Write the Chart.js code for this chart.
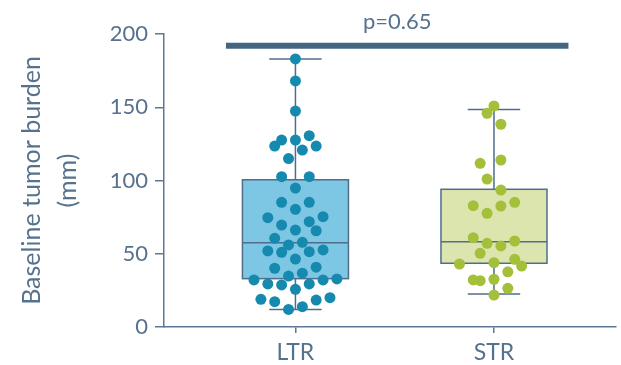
<!DOCTYPE html>
<html lang="en">
<head>
  <meta charset="UTF-8">
  <title>Baseline tumor burden: LTR vs STR</title>
  <script src="https://cdn.jsdelivr.net/npm/chart.js@4.4.1/dist/chart.umd.min.js"></script>
  <style>
    html, body { margin: 0; padding: 0; background: #fff; }
  </style>
</head>
<body>
  <canvas id="myChart" width="621" height="365"></canvas>
  <script>
    // Groups on the x axis (placed at x = 1, 2)
    const groups = ['LTR', 'STR'];

    // Individual patients, mm
    const ltrValues = [183, 168, 147.4, 127.6, 127.6, 123.5, 130.6, 120.8, 123.5, 115,
      102.6, 102.6, 94.8, 85.1, 85.1, 80.3, 74.6, 75.3, 69.6, 71.9,
      66.2, 65.7, 60.5, 56, 57.8, 51.9, 51, 51.4, 52.6, 46.4,
      40.1, 40.8, 34.8, 36.7, 32.1, 29.4, 28.7, 25.7, 29.4, 32.1,
      32.8, 18.9, 17.3, 18.4, 20, 12, 13.9];
    // swarm offsets, in half-dot steps
    const ltrJitter = [0, 0, 0, 0, -2, -3, 2, 1, 3, -1,
      -2, 2, 0, -2, 2, 0, -4, 4, -2, 2,
      0, 3, -3, -1, 1, -4, -2, 2, 4, 0,
      -3, 3, -1, 1, -6, -4, -2, 0, 2, 4,
      6, -5, -3, 3, 5, -1, 1];

    const strValues = [150.9, 145.9, 138.4, 111.7, 114, 101, 93.5, 82.8, 77.6, 82.6,
      85.1, 61, 57.1, 55.3, 58.7, 50.3, 43, 43.9, 46.2, 41.6,
      37.7, 32.1, 31.6, 32.6, 26.4, 21.8];
    const strJitter = [0, -1, 1, -2, 1, -1, 1, -3, -1, 1,
      3, -3, -1, 1, 3, -2, -5, 0, 3, 4,
      2, -3, -2, 0, 2, 0];

    // box summaries: [whisker low, Q1, median, Q3, whisker high]
    const ltrBox = [12, 33, 57.5, 100.5, 183];
    const strBox = [22.5, 43.5, 58.2, 94, 148.5];

    const yTicks = [0, 50, 100, 150, 200];

    // comparison bracket
    const pValueLabel = 'p=0.65';
    const sigBarY = 192;
    const sigBarSpan = [0.65, 2.375];

    const JITTER_STEP = 0.0348;
    const BOX_HALF = 0.267;
    const CAP_HALF = 0.132;
    const FONT = "Lato, 'Open Sans', sans-serif";
    const TEXT = '#56728f';
    const AXIS = '#5b7896';
    const BOX_LINE = '#4f6d8d';

    const boxStyles = [
      { stats: ltrBox, fill: '#7dc7e4' },
      { stats: strBox, fill: '#dde5ae' }
    ];

    // draws boxes, medians and whiskers under the dots
    const boxPlugin = {
      id: 'boxes',
      beforeDatasetsDraw(chart) {
        const { ctx } = chart;
        const x = chart.scales.x, y = chart.scales.y;
        ctx.save();
        ctx.strokeStyle = BOX_LINE;
        ctx.lineWidth = 1.5;
        boxStyles.forEach((b, i) => {
          const c = i + 1;
          const [lo, q1, med, q3, hi] = b.stats;
          const l = x.getPixelForValue(c - BOX_HALF), r = x.getPixelForValue(c + BOX_HALF);
          const cx = x.getPixelForValue(c);
          const cl = x.getPixelForValue(c - CAP_HALF), cr = x.getPixelForValue(c + CAP_HALF);

          // whiskers
          ctx.beginPath();
          ctx.moveTo(cx, y.getPixelForValue(hi));
          ctx.lineTo(cx, y.getPixelForValue(q3));
          ctx.moveTo(cx, y.getPixelForValue(q1));
          ctx.lineTo(cx, y.getPixelForValue(lo));
          ctx.moveTo(cl, y.getPixelForValue(hi));
          ctx.lineTo(cr, y.getPixelForValue(hi));
          ctx.moveTo(cl, y.getPixelForValue(lo));
          ctx.lineTo(cr, y.getPixelForValue(lo));
          ctx.stroke();

          // box
          const top = y.getPixelForValue(q3), bot = y.getPixelForValue(q1);
          ctx.fillStyle = b.fill;
          ctx.fillRect(l, top, r - l, bot - top);
          ctx.strokeRect(l, top, r - l, bot - top);

          // median
          const m = y.getPixelForValue(med);
          ctx.beginPath();
          ctx.moveTo(l, m);
          ctx.lineTo(r, m);
          ctx.stroke();
        });
        ctx.restore();
      },
      afterDraw(chart) {
        const { ctx } = chart;
        const x = chart.scales.x, y = chart.scales.y;
        ctx.save();
        ctx.fillStyle = TEXT;
        ctx.font = '22px ' + FONT;
        ctx.textAlign = 'center';
        ctx.textBaseline = 'alphabetic';
        const mid = (sigBarSpan[0] + sigBarSpan[1]) / 2;
        ctx.fillText(pValueLabel, x.getPixelForValue(mid), y.getPixelForValue(sigBarY) - 17);
        ctx.restore();
      }
    };

    const toPoints = (vals, jit, c) => vals.map((v, i) => ({ x: c + jit[i] * JITTER_STEP, y: v }));

    const ctx = document.getElementById('myChart').getContext('2d');
    new Chart(ctx, {
      type: 'scatter',
      data: {
        datasets: [{
          label: 'LTR',
          data: toPoints(ltrValues, ltrJitter, 1),
          backgroundColor: '#168aae',
          borderWidth: 0,
          pointRadius: 5.5,
          pointHoverRadius: 5.5
        }, {
          label: 'STR',
          data: toPoints(strValues, strJitter, 2),
          backgroundColor: '#a4bf3a',
          borderWidth: 0,
          pointRadius: 5.5,
          pointHoverRadius: 5.5
        }, {
          type: 'line',
          label: pValueLabel,
          data: sigBarSpan.map(v => ({ x: v, y: sigBarY })),
          borderColor: '#45667f',
          borderWidth: 6,
          borderCapStyle: 'butt',
          pointRadius: 0,
          showLine: true
        }]
      },
      options: {
        responsive: false,
        animation: false,
        devicePixelRatio: 1,
        layout: { padding: { left: 14, top: 34, right: 0, bottom: 0 } },
        plugins: {
          legend: { display: false },
          tooltip: { enabled: false }
        },
        scales: {
          x: {
            type: 'linear',
            min: 0.338,
            max: 2.612,
            afterBuildTicks: axis => { axis.ticks = groups.map((g, i) => ({ value: i + 1 })); },
            afterFit: s => { s.height = 38; },
            ticks: {
              callback: v => groups[v - 1],
              color: TEXT,
              font: { family: FONT, size: 23 },
              padding: 6,
              maxRotation: 0
            },
            grid: { drawOnChartArea: false, drawTicks: true, tickLength: 6, color: AXIS, lineWidth: 1.5 },
            border: { display: true, color: AXIS, width: 1.5 }
          },
          y: {
            min: 0,
            max: 200,
            afterBuildTicks: axis => { axis.ticks = yTicks.map(v => ({ value: v })); },
            afterFit: s => { s.width = 150; },
            ticks: {
              color: TEXT,
              font: { family: FONT, size: 22 },
              padding: 7
            },
            grid: { drawOnChartArea: false, drawTicks: true, tickLength: 9, color: AXIS, lineWidth: 1.5 },
            border: { display: true, color: AXIS, width: 1.5 },
            title: {
              display: true,
              text: ['Baseline tumor burden', '(mm)'],
              color: TEXT,
              font: { family: FONT, size: 25, lineHeight: 1.45 },
              padding: { top: 0, bottom: 0 }
            }
          }
        }
      },
      plugins: [boxPlugin]
    });
  </script>
</body>
</html>
